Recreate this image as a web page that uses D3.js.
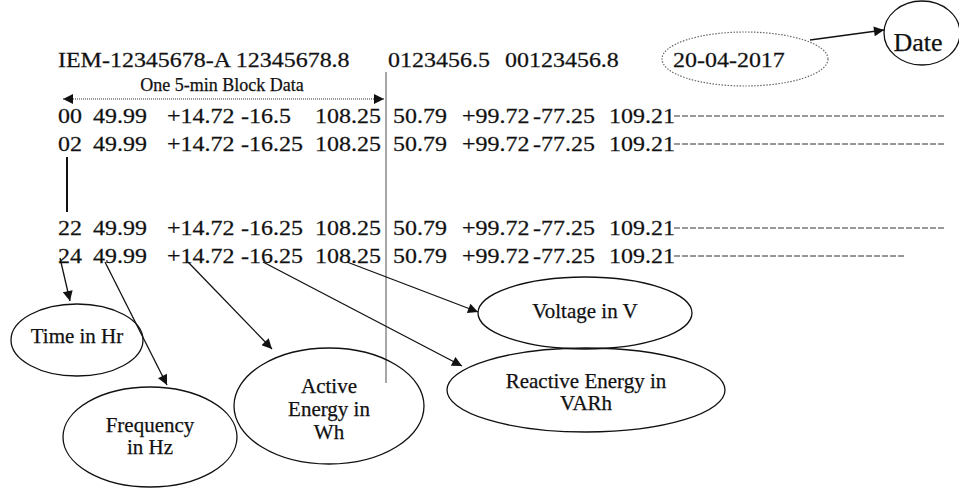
<!DOCTYPE html>
<html>
<head>
<meta charset="utf-8">
<script src="https://cdn.jsdelivr.net/npm/d3@7"></script>
<style>
  body { margin: 0; background: #fff; }
  text { font-family: "Liberation Serif", "Times New Roman", serif; fill: #111; stroke: #111; stroke-width: 0.25; }
</style>
</head>
<body>
<div id="container"></div>
<script>
// ---- data ----
const headerTokens = ["IEM-12345678-A 12345678.8", "0123456.5", "00123456.8", "20-04-2017"];
const blockLabel = "One 5-min Block Data";
const rowTimes = ["00", "02", "22", "24"];
const rowSlots = [0, 1, 4, 5];            // rows 02 .. 22 are skipped (vertical bar)
const rowValues = [
  ["49.99", "+14.72", "-16.5",  "108.25", "50.79", "+99.72", "-77.25", "109.21"],
  ["49.99", "+14.72", "-16.25", "108.25", "50.79", "+99.72", "-77.25", "109.21"],
  ["49.99", "+14.72", "-16.25", "108.25", "50.79", "+99.72", "-77.25", "109.21"],
  ["49.99", "+14.72", "-16.25", "108.25", "50.79", "+99.72", "-77.25", "109.21"]
];
const trailEnd = [945, 945, 945, 905];
const calloutLabels = [
  ["Time in Hr"],
  ["Frequency", "in Hz"],
  ["Active", "Energy in", "Wh"],
  ["Voltage in V"],
  ["Reactive Energy in", "VARh"]
];
const dateLabel = "Date";

// ---- layout ----
const width = 959, height = 488;
const stretch = 1.09;
const headerX = [58, 388, 505, 673];
const headerY = 67;
const colX = [58, 93, 167, 241, 315, 393, 462, 533, 609];
const y = d3.scaleLinear().domain([0, 5]).range([123, 263]);
// ellipse: cx, cy, rx, ry, first baseline, line step ; arrow: from (x,y) to tip (x,y)
const callouts = [
  {cx: 77,  cy: 340, rx: 66,  ry: 36, ty: 343, step: 21, from: [60, 258],  to: [70, 301]},
  {cx: 150, cy: 437, rx: 87,  ry: 50, ty: 432, step: 22, from: [105, 262], to: [167, 385]},
  {cx: 329, cy: 406, rx: 95,  ry: 58, ty: 393, step: 23, from: [188, 262], to: [272, 349]},
  {cx: 585, cy: 313, rx: 107, ry: 36, ty: 318, step: 21, from: [347, 262], to: [478, 312]},
  {cx: 586, cy: 390, rx: 139, ry: 42, ty: 388, step: 22, from: [263, 262], to: [462, 366]}
];

const svg = d3.select("#container").append("svg")
  .attr("width", width)
  .attr("height", height);

svg.append("defs").append("marker")
  .attr("id", "head")
  .attr("viewBox", "0 0 10 10")
  .attr("refX", 10).attr("refY", 5)
  .attr("markerWidth", 12).attr("markerHeight", 10)
  .attr("markerUnits", "userSpaceOnUse")
  .attr("orient", "auto-start-reverse")
  .append("path").attr("d", "M0,0 L10,5 L0,10 z").attr("fill", "#111");

function stretchedText(g, str, x, yy, size) {
  return g.append("text")
    .attr("transform", `translate(${x},${yy}) scale(${stretch},1)`)
    .attr("font-size", size)
    .text(str);
}

// header
headerTokens.forEach((t, i) => stretchedText(svg, t, headerX[i], headerY, 22));

// dotted ellipse around date + arrow to Date bubble
svg.append("ellipse")
  .attr("cx", 745).attr("cy", 59).attr("rx", 83).attr("ry", 27)
  .attr("fill", "none").attr("stroke", "#666").attr("stroke-width", 1.2)
  .attr("stroke-dasharray", "1.5,1.5");
svg.append("line")
  .attr("x1", 810).attr("y1", 40).attr("x2", 884).attr("y2", 30)
  .attr("stroke", "#111").attr("stroke-width", 1.3)
  .attr("marker-end", "url(#head)");
svg.append("ellipse")
  .attr("cx", 922).attr("cy", 33).attr("rx", 38).attr("ry", 32)
  .attr("fill", "none").attr("stroke", "#111").attr("stroke-width", 1.3);
svg.append("text")
  .attr("x", 918).attr("y", 51).attr("text-anchor", "middle")
  .attr("font-size", 26).text(dateLabel);

// block label + dotted double arrow
svg.append("text")
  .attr("x", 222).attr("y", 91).attr("text-anchor", "middle")
  .attr("font-size", 18).text(blockLabel);
svg.append("line")
  .attr("x1", 63).attr("y1", 99).attr("x2", 384).attr("y2", 99)
  .attr("stroke", "#333").attr("stroke-width", 1.2)
  .attr("stroke-dasharray", "1,1")
  .attr("marker-start", "url(#head)")
  .attr("marker-end", "url(#head)");

// divider
svg.append("line")
  .attr("x1", 386).attr("y1", 72).attr("x2", 386).attr("y2", 383)
  .attr("stroke", "#8a8a8a").attr("stroke-width", 1.5);

// rows
const rows = svg.selectAll(".row").data(rowTimes).enter()
  .append("g").attr("class", "row");
rows.each(function (d, i) {
  const g = d3.select(this);
  const yy = y(rowSlots[i]);
  [d].concat(rowValues[i]).forEach((t, j) => stretchedText(g, t, colX[j], yy, 22));
  g.append("line")
    .attr("x1", 674).attr("x2", trailEnd[i])
    .attr("y1", yy - 7).attr("y2", yy - 7)
    .attr("stroke", "#333").attr("stroke-width", 1)
    .attr("stroke-dasharray", "6,2");
});

// vertical ellipsis bar between 02 and 22
svg.append("line")
  .attr("x1", 67).attr("x2", 67)
  .attr("y1", y(1) + 6).attr("y2", y(4) - 23)
  .attr("stroke", "#111").attr("stroke-width", 2);

// callouts
const cg = svg.selectAll(".callout").data(callouts).enter()
  .append("g").attr("class", "callout");
cg.append("line")
  .attr("x1", d => d.from[0]).attr("y1", d => d.from[1])
  .attr("x2", d => d.to[0]).attr("y2", d => d.to[1])
  .attr("stroke", "#111").attr("stroke-width", 1.3)
  .attr("marker-end", "url(#head)");
cg.append("ellipse")
  .attr("cx", d => d.cx).attr("cy", d => d.cy)
  .attr("rx", d => d.rx).attr("ry", d => d.ry)
  .attr("fill", "none").attr("stroke", "#111").attr("stroke-width", 1.3);
cg.each(function (d, i) {
  const g = d3.select(this);
  calloutLabels[i].forEach((line, k) => {
    g.append("text")
      .attr("x", d.cx).attr("y", d.ty + k * d.step)
      .attr("text-anchor", "middle")
      .attr("font-size", 21)
      .text(line);
  });
});
</script>
</body>
</html>
